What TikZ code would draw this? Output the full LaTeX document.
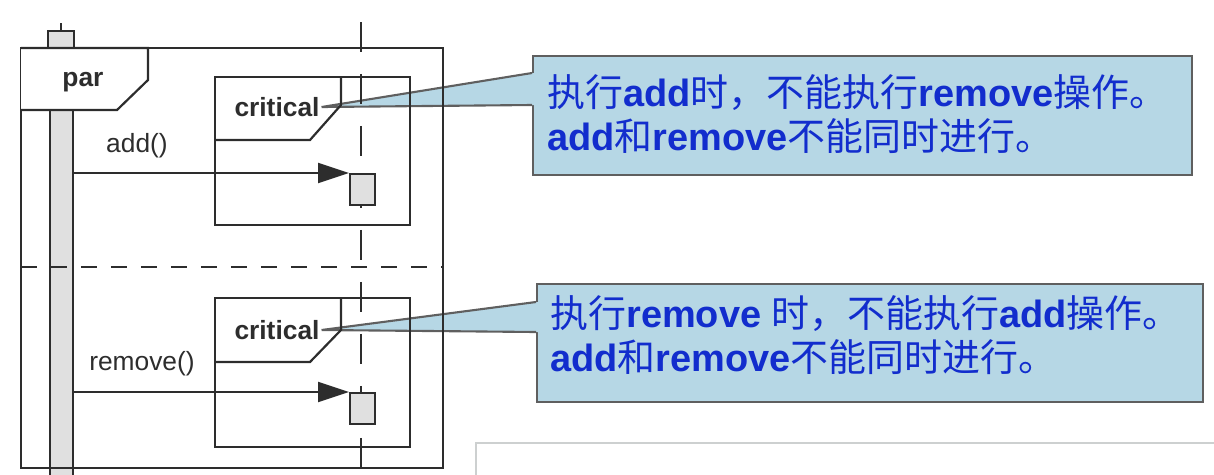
\documentclass[tikz,border=0pt]{standalone}
\usepackage{fontspec}
\setmainfont{Liberation Sans}
\newfontfamily\cjk{Noto Sans CJK SC}
\usetikzlibrary{arrows.meta,positioning,calc,backgrounds}
\definecolor{umlline}{RGB}{45,45,45}
\definecolor{umlgray}{RGB}{224,224,224}
\definecolor{notefill}{RGB}{182,215,229}
\definecolor{notedraw}{RGB}{95,95,95}
\definecolor{noteblue}{RGB}{18,45,205}
\definecolor{panelgray}{RGB}{205,208,208}
\newcommand{\zh}[1]{{\cjk\mdseries #1}}
\newcommand{\en}[1]{{\bfseries #1}}
\tikzset{
  frm/.style={draw=umlline, line width=1.25pt},
  lbl/.style={font=\fontsize{15}{17}\selectfont, text=umlline, inner sep=1pt},
  blbl/.style={font=\fontsize{15}{17}\selectfont\bfseries, text=umlline, inner sep=1pt},
  actbox/.style={draw=umlline, fill=umlgray, line width=1.25pt, inner sep=0pt,
                 minimum width=0.5cm, minimum height=0.62cm},
  msg/.style={-{Triangle[length=0.62cm, width=0.4cm]}, umlline, line width=1.25pt},
  lifeln/.style={umlline, line width=1.25pt, dash pattern=on 0.6cm off 0.44cm},
  sepln/.style={umlline, line width=1.25pt, dash pattern=on 0.32cm off 0.28cm},
  notebox/.style={draw=notedraw, fill=notefill, line width=1.2pt, inner sep=0pt},
  wedge/.style={draw=notedraw, line width=1.2pt},
  notetxt/.style={text=noteblue, font=\fontsize{21.6}{25.5}\selectfont, align=left,
                  anchor=west, inner sep=0pt},
}

\begin{document}
\begin{tikzpicture}[x=0.02cm, y=-0.02cm]
  \useasboundingbox (0,0) rectangle (1214,474);
  % lifelines
  \node[actbox, minimum width=0.52cm, minimum height=0.36cm, anchor=north west] (head) at (47,30) {};
  \draw[frm] (head.north) -- ++(0,-7);
  \node[actbox, minimum width=0.46cm, minimum height=8.6cm, anchor=north west] (bar) at (49,48) {};
  \draw[lifeln] (361,22) -- (361,474);
  % par frame
  \draw[frm] (21,48) rectangle (443,468);
  \draw[frm, fill=white] (21,48) -- (148,48) -- (148,80) -- (117,110) -- (21,110);
  \node[blbl] (par) at (83,82) {par};
  \draw[sepln] (21,267) -- (443,267);
  % critical regions
  \draw[frm] (215,77) rectangle (410,225);
  \draw[frm] (215,140) -- (310,140) -- (341,105) -- (341,77);
  \node[blbl] (crit1) at (277,107) {critical};
  \draw[frm] (215,298) rectangle (410,447);
  \draw[frm] (215,362) -- (310,362) -- (341,330) -- (341,298);
  \node[blbl] (crit2) at (277,330) {critical};
  % messages
  \node[actbox, anchor=north west] (act1) at (349,173) {};
  \node[actbox, anchor=north west] (act2) at (349,392) {};
  \node[lbl] (addlbl) at (137,146) {add()};
  \node[lbl] (remlbl) at (142,364) {remove()};
  \draw[msg] (bar.east |- act1.north west) -- (act1.north west);
  \draw[msg] (bar.east |- act2.north west) -- (act2.north west);
  % notes
  \begin{scope}[on background layer]
    \draw[panelgray, line width=1.2pt] (1216,443) -- (476,443) -- (476,476);
    \node[notebox, minimum width=13.18cm, minimum height=2.38cm, anchor=north west] (note1) at (532,55) {};
    \coordinate (n1a) at ($(note1.north west)+(0,18)$);
    \coordinate (n1b) at ($(note1.north west)+(0,50)$);
    \fill[notefill] (crit1.east) -- ($(n1a)+(2,0)$) -- ($(n1b)+(2,0)$) -- cycle;
    \draw[wedge] (n1a) -- (crit1.east) -- (n1b);
    \node[notetxt] (txt1) at (547,114)
      {\zh{执行}\en{add}\zh{时，不能执行}\en{remove}\zh{操作。}\\
       \en{add}\zh{和}\en{remove}\zh{不能同时进行。}};
    \node[notebox, minimum width=13.32cm, minimum height=2.36cm, anchor=north west] (note2) at (536,283) {};
    \coordinate (n2a) at ($(note2.north west)+(0,19)$);
    \coordinate (n2b) at ($(note2.north west)+(0,49)$);
    \fill[notefill] (crit2.east) -- ($(n2a)+(2,0)$) -- ($(n2b)+(2,0)$) -- cycle;
    \draw[wedge] (n2a) -- (crit2.east) -- (n2b);
    \node[notetxt] (txt2) at (550,335)
      {\zh{执行}\en{remove} \zh{时，不能执行}\en{add}\zh{操作。}\\
       \en{add}\zh{和}\en{remove}\zh{不能同时进行。}};
  \end{scope}
\end{tikzpicture}
\end{document}
